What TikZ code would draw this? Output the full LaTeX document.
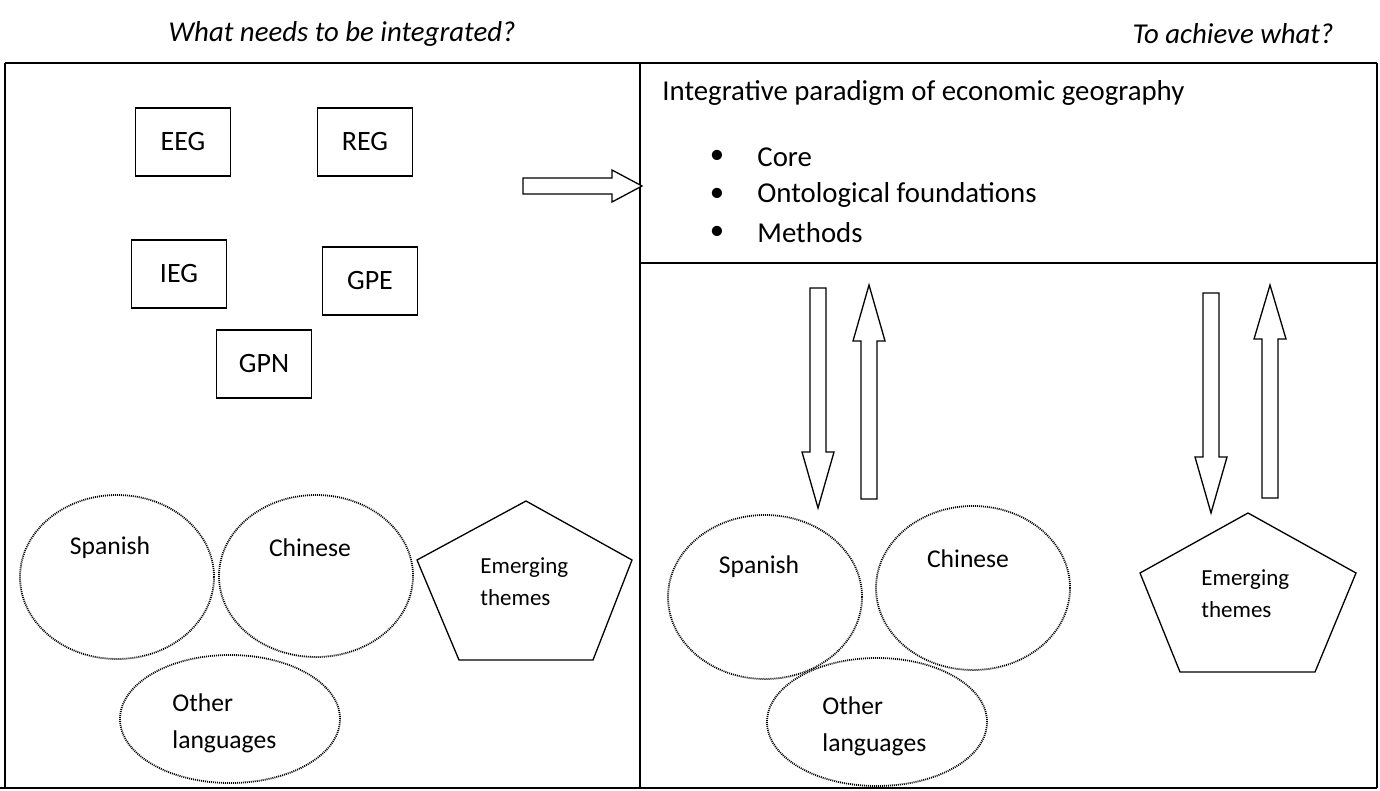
\documentclass[tikz,border=0pt]{standalone}
\usepackage{fontspec}
\setmainfont{Carlito}
\usetikzlibrary{calc,shapes.geometric}

\tikzset{
  heading/.style={font=\fontsize{14.4}{17}\selectfont\itshape},
  gbox/.style={draw, line width=0.65pt, minimum width=47.5pt, minimum height=34pt,
    inner sep=0pt, font=\fontsize{14}{16}\selectfont},
  lang/.style={draw, ellipse, line width=0.9pt, dash pattern=on 0.5pt off 0.5pt,
    inner sep=0pt},
  langtext/.style={inner sep=0pt, font=\fontsize{12.8}{18.5}\selectfont, align=left},
  themetext/.style={inner sep=0pt, font=\fontsize{11.5}{16}\selectfont, align=left},
  listtext/.style={inner sep=0pt, anchor=west, font=\fontsize{14.4}{17}\selectfont},
  fatarr/.style={draw, line width=0.65pt, fill=white, line join=miter},
  frame/.style={line width=0.65pt},
  thickframe/.style={line width=1.2pt},
}

% block arrow from a tail coordinate to a tip coordinate
\newcommand{\fatarrow}[3]{%
  \path ($(#2)!#3!(#1)$) coordinate (neck);
  \draw[fatarr] ($(#1)!4pt!90:(#2)$) -- ($(neck)!4pt!90:(#2)$)
    -- ($(neck)!8pt!90:(#2)$) -- (#2) -- ($(neck)!8pt!-90:(#2)$)
    -- ($(neck)!4pt!-90:(#2)$) -- ($(#1)!4pt!-90:(#2)$) -- cycle;
}

\begin{document}
\begin{tikzpicture}[x=0.5pt,y=-0.5pt]
\useasboundingbox (0,0) rectangle (1380,791);

% column headings
\node[heading] (needs) at (342,34) {What needs to be integrated?};
\node[heading] (achieve) at (1233,34) {To achieve what?};

% frame of the two columns
\draw[thickframe] (5,63) -- (640,63);
\draw[frame] (640,63) -- (1377,63);
\draw[thickframe] (5,63) -- (5,788);
\draw[thickframe] (0,788) -- (1377,788);
\draw[thickframe] (1377,63) -- (1377,788);
\draw[frame] (640,63) -- (640,788);
\draw[frame] (640,263) -- (1377,263);

% strands of economic geography
\node[gbox] (eeg) at (183,142) {EEG};
\node[gbox] (reg) at (365,142) {REG};
\node[gbox] (ieg) at (179,274) {IEG};
\node[gbox] (gpe) at (370,281) {GPE};
\node[gbox] (gpn) at (264,364) {GPN};

% languages and themes, left column
\node[lang, minimum width=97pt, minimum height=82pt] (spanL) at (117,577) {};
\node[langtext] (spanLtxt) at (110,548) {Spanish};
\node[lang, minimum width=97pt, minimum height=81pt] (chinL) at (316,576) {};
\node[langtext] (chinLtxt) at (310,548) {Chinese};
\node[lang, minimum width=110pt, minimum height=64pt] (otherL) at (230,719) {};
\node[langtext, anchor=west] (otherLtxt) at (172,723) {Other\\languages};
\draw[frame] (526,501) -- (632,560) -- (593,660) -- (459,660) -- (417,560) -- cycle;
\node[themetext, anchor=west] (themeL) at (480,582) {Emerging\\themes};

% towards the paradigm
\coordinate (intail) at (523,186);
\coordinate (intip) at (642,186);
\fatarrow{intail}{intip}{15pt}

% the integrative paradigm
\node[listtext] (paradigm) at (662,93) {Integrative paradigm of economic geography};
\foreach \y/\name/\txt in {157/core/Core, 195/onto/Ontological foundations, 233/meth/Methods} {
  \node[inner sep=0pt, font=\fontsize{14.4}{17}\selectfont] (\name dot) at (717,\y) {\textbullet};
  \node[listtext] (\name) at (757,\y) {\txt};
}

% feedback arrows, right column
\coordinate (d1tail) at (818,288);
\coordinate (d1tip) at (818,508);
\coordinate (u1tail) at (869,499);
\coordinate (u1tip) at (869,285);
\coordinate (d2tail) at (1211,293);
\coordinate (d2tip) at (1211,513);
\coordinate (u2tail) at (1270,498);
\coordinate (u2tip) at (1270,285);
\fatarrow{d1tail}{d1tip}{28pt}
\fatarrow{u1tail}{u1tip}{28pt}
\fatarrow{d2tail}{d2tip}{28pt}
\fatarrow{u2tail}{u2tip}{27pt}

% languages and themes, right column
\node[lang, minimum width=97pt, minimum height=82pt] (spanR) at (765,597) {};
\node[langtext] (spanRtxt) at (759,567) {Spanish};
\node[lang, minimum width=97pt, minimum height=82pt] (chinR) at (973,588) {};
\node[langtext] (chinRtxt) at (968,559) {Chinese};
\node[lang, minimum width=110pt, minimum height=64pt] (otherR) at (877,722) {};
\node[langtext, anchor=west] (otherRtxt) at (822,726) {Other\\languages};
\draw[frame] (1248,513) -- (1356,573) -- (1315,672) -- (1180,672) -- (1140,573) -- cycle;
\node[themetext, anchor=west] (themeR) at (1201,594) {Emerging\\themes};

\end{tikzpicture}
\end{document}
